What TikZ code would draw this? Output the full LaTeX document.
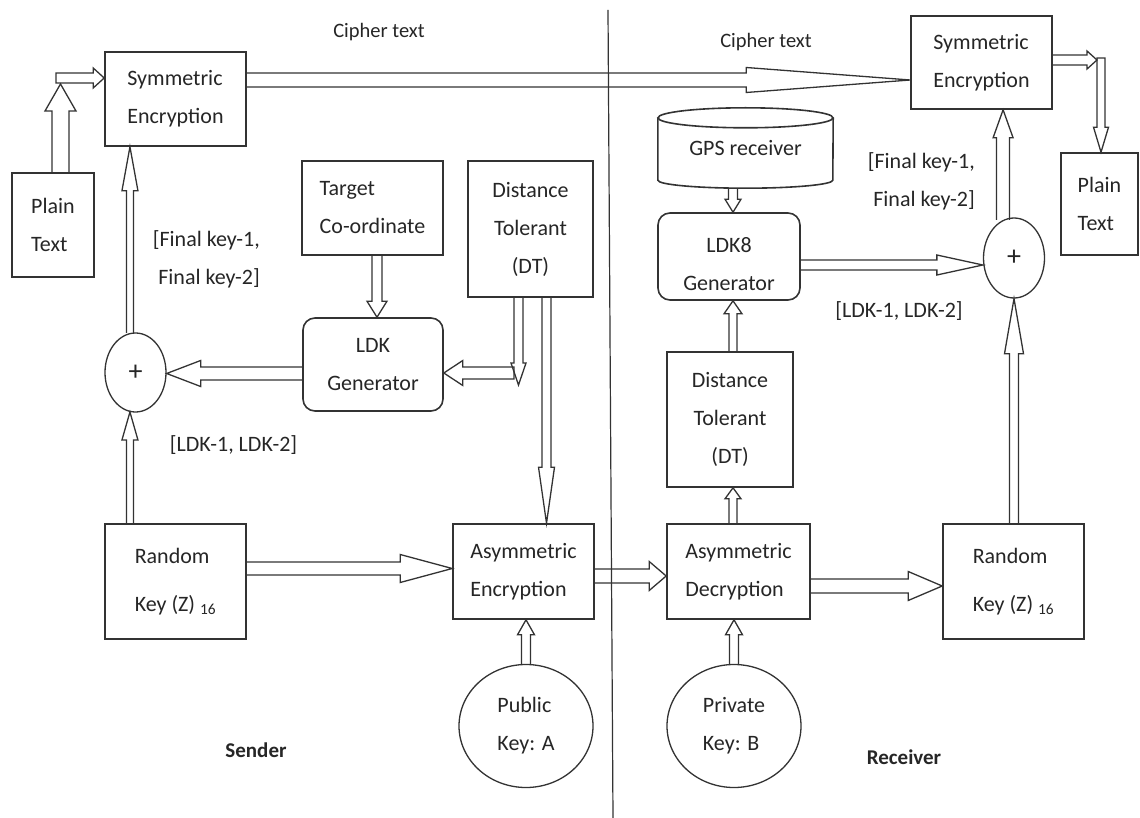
\documentclass[tikz,border=0pt]{standalone}
\usepackage{fontspec}
\setmainfont{Carlito}
\usetikzlibrary{calc,shapes.geometric}

% Hollow block arrow: [extra opts]{start}{tip}{shaft half-width}{head half-width}{head length}
\newcommand\fatarrow[6][]{%
  \coordinate (faS) at (#2);
  \coordinate (faT) at (#3);
  \coordinate (faH) at ($(faT)!#6pt!(faS)$);
  \draw[arrline,#1] ($(faS)!#4pt!90:(faT)$) -- ($(faH)!#4pt!-90:(faS)$)
    -- ($(faH)!#5pt!-90:(faS)$) -- (faT) -- ($(faH)!#5pt!90:(faS)$)
    -- ($(faH)!#4pt!90:(faS)$) -- ($(faS)!#4pt!-90:(faT)$);
}
% Same, with the tail end closed
\newcommand\fatarrowc[6][]{%
  \coordinate (faS) at (#2);
  \coordinate (faT) at (#3);
  \coordinate (faH) at ($(faT)!#6pt!(faS)$);
  \draw[arrline,#1] ($(faS)!#4pt!90:(faT)$) -- ($(faH)!#4pt!-90:(faS)$)
    -- ($(faH)!#5pt!-90:(faS)$) -- (faT) -- ($(faH)!#5pt!90:(faS)$)
    -- ($(faH)!#4pt!90:(faS)$) -- ($(faS)!#4pt!-90:(faT)$) -- cycle;
}

\tikzset{
  txt/.style={text=black!85, font=\fontsize{22}{38}\selectfont},
  box/.style={txt, draw=black!80, line width=1.6pt, rectangle, align=left, inner sep=4pt},
  rbox/.style={box, rounded corners=12pt, align=center},
  oval/.style={txt, draw=black!80, line width=1.3pt, ellipse, inner sep=0pt, align=left},
  plus/.style={oval, font=\fontsize{28}{28}\selectfont},
  arrline/.style={draw=black!80, line width=1.3pt, line join=miter},
  lbl/.style={txt, inner sep=0pt},
}

\begin{document}
\begin{tikzpicture}[x=1pt, y=-1pt]
\useasboundingbox (0,0) rectangle (1140,818);
\fill[white] (0,0) rectangle (1140,818);

% ---------- sender side ----------
\node[box, minimum width=141pt, minimum height=94pt] (symL) at (175.5,99) {Symmetric\\Encryption};
\node[box, minimum width=82pt, minimum height=104pt] (ptL) at (53,225) {Plain\\Text};
\node[box, minimum width=141pt, minimum height=94pt] (tgt) at (372.5,208) {Target\\Co-ordinate};
\node[box, align=center, minimum width=125pt, minimum height=136pt] (dtL) at (530.5,229) {Distance\\Tolerant\\(DT)};
\node[rbox, minimum width=140pt, minimum height=93pt] (ldk) at (373,364.5) {LDK\\Generator};
\node[plus, minimum width=61pt, minimum height=79pt] (plusL) at (135.5,372.5) {+};
\node[box, minimum width=141pt, minimum height=115pt] (rkL) at (175.5,581.5) {Random\\[10pt]Key (Z) \textsubscript{16}};
\node[box, minimum width=141pt, minimum height=95pt] (aenc) at (523.5,571.5) {Asymmetric\\Encryption};
\node[oval, minimum width=134pt, minimum height=123pt] (pub) at (526,726) {Public\\Key: A};

% ---------- receiver side ----------
\node[box, minimum width=141pt, minimum height=93pt] (symR) at (981.5,62.5) {Symmetric\\Encryption};
\node[box, minimum width=77pt, minimum height=102pt] (ptR) at (1099.5,204) {Plain\\Text};
\node[lbl, minimum width=175pt, minimum height=80pt] (gps) at (745.5,148) {GPS receiver};
\node[rbox, minimum width=142pt, minimum height=87pt] (ldk8) at (729,256.5) {\rule{0pt}{30pt}LDK8\\Generator};
\node[box, align=center, minimum width=126pt, minimum height=135pt] (dtR) at (730,419.5) {Distance\\Tolerant\\(DT)};
\node[plus, minimum width=61pt, minimum height=80pt] (plusR) at (1014,258) {+};
\node[box, minimum width=143pt, minimum height=95pt] (adec) at (738.5,571.5) {Asymmetric\\Decryption};
\node[box, minimum width=141pt, minimum height=115pt] (rkR) at (1013.5,581.5) {Random\\[10pt]Key (Z) \textsubscript{16}};
\node[oval, minimum width=134pt, minimum height=123pt] (priv) at (734,726) {Private\\Key: B};

% GPS receiver drawn as a cylinder
\draw[draw=black!80, line width=1.6pt] ([yshift=-10pt]gps.north) ellipse[x radius=87.5pt, y radius=10pt];
\draw[draw=black!80, line width=1.6pt] ([yshift=-10pt]gps.north west) -- ([yshift=8pt]gps.south west)
  arc[start angle=180, end angle=360, x radius=87.5pt, y radius=8pt] -- ([yshift=-10pt]gps.north east);

% ---------- labels ----------
\node[lbl, font=\fontsize{20.5}{20.5}\selectfont] (ctL) at (379,32) {Cipher text};
\node[lbl, font=\fontsize{20.5}{20.5}\selectfont] (ctR) at (766,42) {Cipher text};
\node[lbl, align=right, anchor=east] (fkL) at (260,259) {[Final key-1,\\Final key-2]};
\node[lbl, align=right, anchor=east] (fkR) at (975,181) {[Final key-1,\\Final key-2]};
\node[lbl] (lkL) at (233.5,445) {[LDK-1, LDK-2]};
\node[lbl] (lkR) at (899,311) {[LDK-1, LDK-2]};
\node[lbl, font=\fontsize{21}{21}\selectfont\bfseries] (snd) at (256,750) {Sender};
\node[lbl, font=\fontsize{21}{21}\selectfont\bfseries] (rcv) at (904,757) {Receiver};

% sender / receiver divider
\coordinate (divTop) at (608,10);
\coordinate (divBot) at (613,818);
\draw[draw=black!80, line width=1.2pt] (divTop) -- (divBot);

% ---------- connectors: sender ----------
\coordinate (elbL) at (56,78);
\coordinate (elbLv) at (60.5,84);
\fatarrow{ptL.north -| elbLv}{elbLv}{8.5}{15.5}{27}
\fatarrowc{elbL}{symL.west |- elbL}{5}{10}{11}
\fatarrow{symL.east |- 0,80}{symR.west |- 0,80}{7}{12.5}{164}
\fatarrow{plusL.98}{symL.south -| plusL.98}{3.5}{8}{44}
\fatarrow{rkL.north -| plusL.262}{plusL.262}{3.5}{8}{28}
\fatarrow{ldk.west |- 0,373.5}{plusL.east |- 0,373.5}{6.5}{13}{34}
\fatarrow{tgt.south -| 377,0}{ldk.north -| 377,0}{5}{10}{16}
\coordinate (elbDv) at (518.5,385);
\coordinate (elbDh) at (514,373);
\fatarrow{dtL.south -| elbDv}{elbDv}{4.5}{7.5}{22}
\fatarrowc{elbDh}{ldk.east |- elbDh}{6}{12.5}{19}
\fatarrow{dtL.south -| 546.5,0}{aenc.north -| 546.5,0}{4.5}{8}{56}
\fatarrow{rkL.east |- 0,568.5}{aenc.west |- 0,568.5}{6.5}{14}{52}
\fatarrow{pub.north}{aenc.south -| pub.north}{4.5}{8.5}{15}

% ---------- connectors: between and receiver ----------
\fatarrow{aenc.east |- 0,576}{adec.west |- 0,576}{7}{14.5}{17}
\fatarrow{adec.east |- 0,586}{rkR.west |- 0,586}{7}{14.5}{34}
\fatarrow{priv.north}{adec.south -| priv.north}{4.5}{8.5}{15}
\fatarrow{adec.north -| 733,0}{dtR.south -| 733,0}{4}{8}{11}
\fatarrow{dtR.north -| 733,0}{ldk8.south -| 733,0}{4}{9}{13}
\fatarrow{gps.south -| 733,0}{ldk8.north -| 733,0}{4.5}{8}{13}
\fatarrow{ldk8.east |- 0,265}{plusR.west |- 0,265}{5}{10}{46}
\fatarrow{rkR.north -| plusR.south}{plusR.south}{4.5}{9.5}{55}
\fatarrow{plusR.106}{symR.south -| plusR.106}{6.5}{10}{28}
\coordinate (elbRh) at (1097,60);
\coordinate (elbR) at (1101,58);
\fatarrow{symR.east |- elbRh}{elbRh}{5}{9}{10}
\fatarrowc{elbR}{ptR.north -| elbR}{4}{7.5}{25}
\end{tikzpicture}
\end{document}
